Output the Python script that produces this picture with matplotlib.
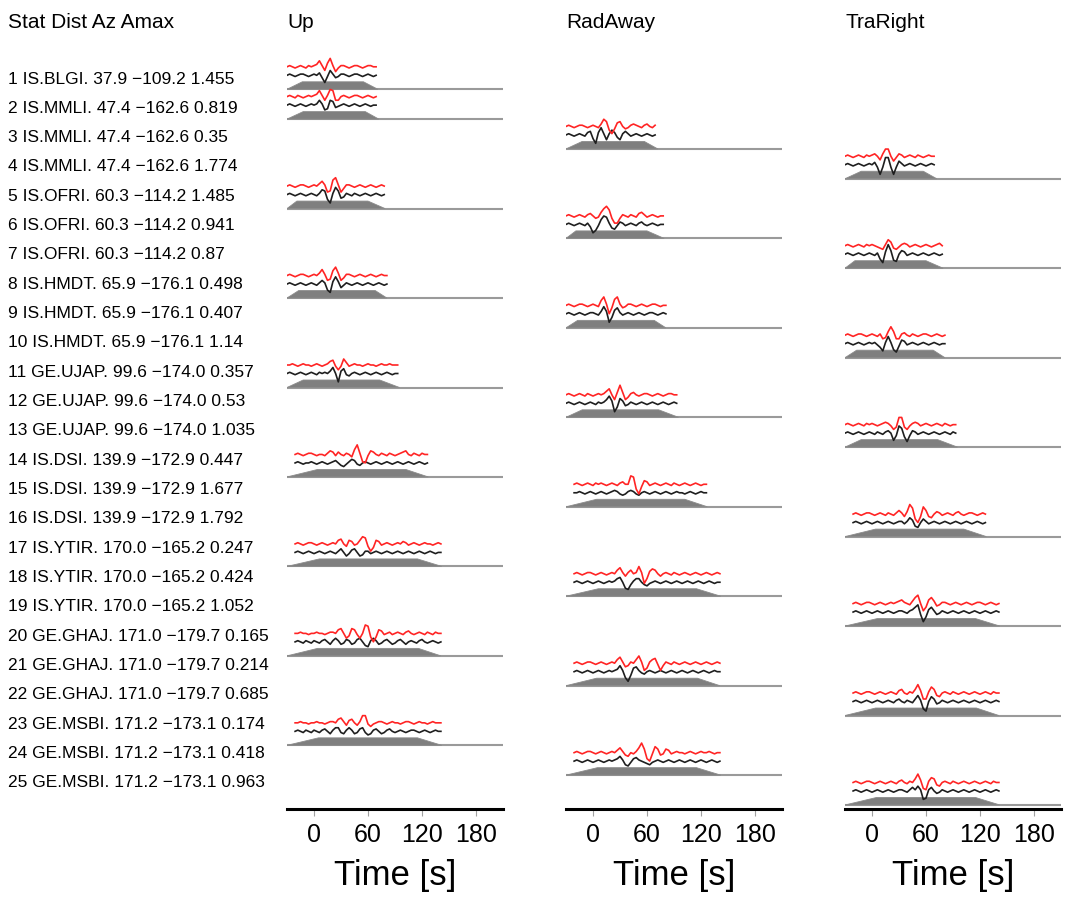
import numpy as np
import matplotlib
matplotlib.use('Agg')   # no display needed
import matplotlib.pyplot as plt

plt.rcParams['font.family'] = ['Liberation Sans', 'DejaVu Sans']


# -----------------------------------------------------------------------
# Stations
# -----------------------------------------------------------------------
sta_names = ['IS.BLGI.', 'IS.MMLI.', 'IS.OFRI.', 'IS.HMDT.', 'GE.UJAP.',
             'IS.DSI.', 'IS.YTIR.', 'GE.GHAJ.', 'GE.MSBI.']
sta_dist  = [37.9, 47.4, 60.3, 65.9, 99.6, 139.9, 170.0, 171.0, 171.2]
sta_azi   = [-109.2, -162.6, -114.2, -176.1, -174.0, -172.9, -165.2, -179.7, -173.1]

# fit window [s]: start, end of taper-in, start of taper-out, end
win_start = [-30, -30, -30, -30, -30, -30, -30, -30, -30]
win_top0  = [-13, -12, -19, -17, -12, 4, 6, 4, 5]
win_top1  = [55, 57, 60, 68, 73, 102, 115, 116, 115]
win_end   = [71, 72, 79, 81, 95, 127, 142, 141, 142]
trace_t0  = [-30, -30, -30, -30, -30, -21, -21, -21, -21]
DT = 3.0   # sample spacing of the traces below [s]

# -----------------------------------------------------------------------
# Rows (one trace each): station, component, max amplitude
# -----------------------------------------------------------------------
components = ['Up', 'RadAway', 'TraRight']
row_sta  = [0, 1, 1, 1, 2, 2, 2, 3, 3, 3, 4, 4, 4, 5, 5, 5, 6, 6, 6, 7, 7, 7, 8, 8, 8]
row_comp = [0, 0, 1, 2, 0, 1, 2, 0, 1, 2, 0, 1, 2, 0, 1, 2, 0, 1, 2, 0, 1, 2, 0, 1, 2]
row_amax = [1.455, 0.819, 0.35, 1.774, 1.485, 0.941, 0.87, 0.498, 0.407, 1.14,
            0.357, 0.53, 1.035, 0.447, 1.677, 1.792, 0.247, 0.424, 1.052,
            0.165, 0.214, 0.685, 0.174, 0.418, 0.963]

# observed (black), normalised amplitudes
obs = [
    [0,1,0,-1,0,1,1,0,-1,0, 1,0,2,-2,-6,-1,4,1,-2,-1, 1,1,0,-1,0,1,1,0,-1,0, 1,0,-1,0],
    [0,1,0,-1,0,1,0,-1,0,1, 0,1,4,1,-4,-3,4,3,-2,-1, 0,1,0,-1,0,1,0,-1,0,1, 0,-1,0,0],
    [0,1,0,-1,0,1,0,-1,2,3, -3,-7,2,6,1,-4,1,4,2,-2, -4,1,3,1,-1,0,1,0,-1,0, 1,0,-1,0],
    [0,1,0,-1,0,1,0,-1,0,1, 0,2,-2,-8,-2,6,6,-2,-8,-2, 3,1,-1,0,1,0,-1,0,1,0, -1,0,1,0],
    [0,1,0,-1,0,1,0,-1,0,1, 0,-1,1,4,3,-4,-7,1,6,3, -3,-2,1,0,-1,1,0,-1,0,1, 0,-1,0,1,0,-1,0],
    [0,1,0,-1,0,1,0,-1,1,-2, -7,-5,-1,4,7,6,1,-3,-4,-1, 2,1,-1,0,1,0,-1,1,2,0, -1,0,1,0,-1,0,0],
    [0,1,0,-1,0,1,0,-1,0,1, 0,-1,1,-4,-7,2,8,3,-5,-6, 0,3,2,-1,0,1,0,-1,0,1, 0,-1,0,1,0,-1,0],
    [0,1,0,-1,0,1,0,-1,0,1, 0,-1,1,3,1,-5,-7,2,6,2, -3,-1,1,0,-1,0,1,0,-1,0, 1,0,-1,0,1,0,-1,0],
    [0,1,0,-1,0,1,0,-1,0,1, 1,0,-1,2,6,2,-7,-3,3,5, 1,-1,0,1,0,-1,0,1,0,-1, 0,1,1,0,-1,0,1,0],
    [0,1,0,-1,0,1,0,-1,0,1, 0,1,-1,-3,-6,1,6,1,-5,-7, -2,3,2,-1,0,1,0,-1,0,1, 0,-1,0,1,0,-1,0,0],
    [0,1,0,-1,0,1,0,-1,0,1, 0,-1,1,0,1,0,2,5,0,-7, 2,4,-1,-2,0,1,0,-1,0,1, 0,-1,0,1,0,-1,0,1,0,-1,0,0],
    [0,1,0,-1,0,1,0,-1,0,1, 0,-1,1,0,1,3,6,2,-7,-3, 4,2,-2,-1,1,0,-1,0,1,0, -1,0,1,0,-1,0,1,0,-1,0,1,0],
    [0,1,0,-1,0,1,0,-1,0,1, 0,-1,1,0,-1,1,2,0,-6,-2, 6,4,-3,-7,-2,2,1,-1,0,1, 0,-1,0,1,0,-1,0,1,0,-1,1,0],
    [0,1,0,-1,0,0,1,0,-1,0, 1,0,-1,0,1,2,0,-2,-3,-1, 1,3,2,-1,-2,0,1,0,-1,0, 1,0,-1,0,1,0,-1,0,1,0,
     -1,0,1,0,-1,0,1,0,-1,0],
    [0,0,1,0,-1,0,1,0,-1,0, 1,0,-1,0,1,2,1,-1,-2,-1, 1,2,1,-1,-2,0,1,0,-1,0, 1,0,-1,0,1,0,-1,0,1,0,
     0,-1,0,1,0,-1,0,1,0,0],
    [0,1,0,-1,0,1,0,-1,0,1, 0,-1,0,1,0,-1,0,1,1,-1, 1,4,2,-3,-4,0,3,1,-1,0, 1,0,-1,0,1,0,-1,0,1,0,
     -1,0,1,0,-1,0,1,0,-1,0],
    [0,1,0,-1,0,1,0,-1,0,1, 0,-1,0,1,0,-1,1,3,0,-3, -1,2,3,0,-3,-2,1,1,-1,0, 1,0,-1,0,1,0,-1,0,1,0,
     -1,0,1,0,-1,0,1,0,-1,0, 1,0,-1,0,0],
    [0,1,0,-1,0,1,0,-1,0,1, 0,-1,0,1,0,1,3,4,0,-5, -6,-2,1,3,3,0,-2,-3,-1,0, 1,0,-1,0,1,0,-1,0,1,0,
     -1,0,1,0,-1,0,1,0,-1,0, 1,0,-1,0,0],
    [0,1,0,-1,0,1,0,-1,0,1, 0,-1,0,1,0,-1,0,1,1,0, -1,1,2,4,6,-2,-8,-4,2,4, 1,-2,-1,1,0,-1,0,1,0,-1,
     0,1,0,-1,0,1,0,-1,0,1, 0,-1,0,1,0],
    [0,1,0,-1,1,0,-1,1,0,-1, 1,2,0,-2,1,3,1,-2,-1,2, 1,-2,-1,2,3,0,-3,-4,1,3, 1,-2,-1,1,2,0,-2,-1,1,2,
     0,-2,0,1,0,-1,1,2,0,-1, 0,1,0,-1,0],
    [0,1,0,-1,0,1,0,-1,0,1, 0,-1,0,1,0,1,2,5,1,-5, -8,-3,3,4,1,-1,-2,0,1,0, -1,0,1,0,-1,0,1,0,-1,0,
     1,0,-1,0,1,0,-1,0,1,0, -1,0,1,0,0],
    [0,1,0,-1,0,1,0,-1,0,1, 0,-1,0,1,0,-1,1,2,0,-1, 1,0,-1,2,5,1,-6,-8,0,4, 2,-2,-1,1,0,-1,0,1,0,-1,
     0,1,0,-1,0,1,0,-1,0,1, 0,-1,0,1,0],
    [0,1,0,-1,1,0,-1,1,0,-1, 1,2,0,-2,1,3,3,-1,-2,1, 3,1,-2,-1,2,3,-1,-3,-2,1, 2,0,-2,-1,1,2,0,-1,0,1,
     0,-1,0,1,1,0,-1,0,1,0, -1,0,1,0,0],
    [0,1,0,-1,0,1,0,-1,0,1, 0,-1,0,1,0,1,2,4,1,-3, -4,-1,2,3,1,0,-1,-2,-3,-1, 0,1,0,-1,0,1,0,-1,0,1,
     0,-1,0,1,0,-1,0,1,0,-1, 0,1,0,-1,0],
    [0,1,0,-1,0,1,0,-1,0,1, 0,-1,0,1,0,-1,0,1,1,0, -1,1,3,1,4,1,-7,-6,1,3, 0,-2,-1,1,0,-1,0,1,0,-1,
     0,1,0,-1,0,1,0,-1,0,1, 0,-1,0,1,0],
]

# synthetics (red), same normalisation
syn = [
    [0,1,0,-1,0,1,0,-1,1,0, 1,2,5,1,-3,3,7,1,-4,-1, 1,1,0,-1,0,1,1,0,-1,0, 1,1,0,0],
    [0,1,0,-1,1,0,-1,0,1,0, 1,2,5,1,-3,1,6,5,-3,-3, 0,1,0,-1,0,1,1,0,-1,0, 1,0,-1,0],
    [0,1,0,-1,0,1,1,0,-1,0, 1,0,-1,2,6,4,-3,-6,-2,3, 4,0,-2,-1,1,2,1,0,-1,1, 2,0,-1,1],
    [0,1,0,-1,0,1,0,-1,1,0, 1,2,0,-3,2,6,6,0,-4,-1, 2,1,-1,0,1,0,-1,1,0,-1, 0,1,0,0],
    [0,1,0,-1,0,1,1,0,-1,0, 1,0,2,4,1,-5,-4,5,7,1, -5,-2,1,1,0,-1,0,1,0,-1, 0,1,0,-1,0,1,0],
    [0,1,0,-1,0,1,0,-1,1,2, 0,-2,-1,3,6,8,5,-2,-6,-6, -2,1,0,-1,1,0,-1,2,3,1, -1,0,1,0,-1,0,0],
    [0,1,0,-1,0,1,0,-1,1,0, 1,0,-1,-2,-3,1,5,3,-2,-3, -1,1,2,1,-1,0,1,0,-1,0, 1,0,-1,0,1,2,0],
    [0,1,0,-1,0,1,1,0,-1,0, 1,0,2,5,1,-4,-3,4,7,2, -4,-2,1,1,0,-1,0,1,0,-1, 0,1,0,-1,0,1,0,0],
    [0,1,0,-1,0,1,1,0,-1,0, 1,0,-1,4,7,1,-7,-2,5,7, 1,-2,-1,1,1,0,-1,0,1,0, -1,0,1,1,0,-1,0,0],
    [0,1,0,-1,0,1,1,0,-1,0, 1,0,-1,1,-3,-2,3,7,3,-3, -3,1,2,0,-1,1,0,-1,0,1, 1,0,-1,0,1,0,-1,0],
    [0,0,1,0,-1,0,1,0,0,-1, 0,1,0,-1,0,1,3,4,-1,-4, -1,5,2,-1,0,1,0,0,-1,0, 1,0,0,-1,0,1,0,0,1,0,0,0],
    [0,1,0,-1,0,1,0,-1,1,0, -1,0,1,0,1,3,5,0,-4,2, 8,2,-4,-2,1,2,0,-1,0,1, 1,0,-1,0,1,0,-1,0,1,1,0,0],
    [0,1,0,-1,0,1,0,-1,1,0, 1,0,-1,0,1,2,1,-1,-4,-2, 6,6,-2,-4,-1,1,2,1,-1,0, 1,0,-1,0,1,0,-1,1,0,-1,0,0],
    [0,1,0,-1,0,1,1,0,-1,0, 0,-1,1,3,2,-1,2,0,-1,1, 0,-2,4,8,1,-6,-7,-1,3,2, 0,-1,1,0,-1,1,0,-1,0,1,
     2,3,0,-1,1,0,-1,1,0,0],
    [0,1,0,-1,0,1,0,-1,1,0, 1,0,-1,0,1,0,-1,1,2,0, 0,7,6,-4,-8,-2,3,2,-1,0, 1,0,-1,0,1,0,-1,1,0,-1,
     0,1,0,-1,0,1,0,-1,0,0],
    [0,1,0,-1,0,1,1,0,-1,0, 1,0,-1,1,0,-1,1,3,1,-2, 2,8,5,-4,-7,-2,6,3,-2,-3, 0,2,1,-1,0,1,0,-1,1,2,
     0,-1,0,1,1,0,-1,0,1,0],
    [0,1,0,-1,0,1,1,0,-1,0, 1,0,-1,0,1,0,3,4,0,-2, 3,2,-1,0,3,6,5,-2,-6,-3, 3,2,-1,0,1,0,-1,0,1,0,
     2,1,-1,0,1,0,-1,0,1,0, 0,-1,0,1,0],
    [0,1,0,-1,0,1,1,0,-1,0, 1,0,-1,0,1,0,3,5,1,-2, 1,3,0,1,6,1,-8,-4,2,4, 3,0,-2,0,1,0,-1,1,0,-1,
     0,1,0,-1,0,1,0,-1,0,1, 0,-1,0,1,0],
    [0,1,0,-1,0,1,1,0,-1,0, 1,0,-1,0,1,0,1,2,3,1, 0,-1,2,5,7,0,-6,-3,3,5, 2,-2,-1,1,1,0,-1,0,1,0,
     -1,0,1,0,-1,0,1,1,0,-1, 0,1,0,-1,0],
    [0,0,1,0,0,-1,0,0,1,0, 0,-1,0,1,1,0,3,4,0,-4, -2,4,3,-1,-4,0,7,6,-3,-7, -3,3,2,-1,0,1,-1,0,1,0,
     -1,1,2,0,-1,0,1,0,-1,1, 0,-1,1,0,0],
    [0,1,0,-1,0,1,1,0,-1,0, 1,0,-1,0,1,0,3,5,1,-3, -2,1,0,3,6,1,-6,-4,1,3, 4,-1,-6,-2,1,0,-1,1,0,-1,
     0,1,0,-1,0,1,0,-1,0,1, 0,-1,0,1,0],
    [0,1,0,-1,0,1,1,0,-1,0, 1,0,-1,0,1,0,-1,2,3,0, -1,1,0,3,7,2,-5,-5,1,5, 3,-2,-3,0,1,0,-1,1,0,-1,
     0,1,0,-1,0,1,0,-1,0,1, 0,-1,1,0,0],
    [0,0,1,0,0,-1,0,0,1,0, 0,-1,0,1,1,0,3,4,1,-2, 2,3,0,-2,1,6,6,-1,-3,-1, 0,1,1,0,-1,0,1,0,0,-1,
     0,1,1,0,-1,0,1,0,0,-1, 0,1,0,0,0],
    [0,1,0,-1,0,1,1,0,-1,0, 1,0,-1,0,1,0,2,4,1,-2, -3,0,-1,1,4,8,3,-5,-7,-1, 5,3,-2,-1,3,2,-1,0,1,0,
     0,-1,0,1,0,-1,0,1,0,0, 1,0,-1,0,0],
    [0,1,0,-1,0,1,1,0,-1,0, 1,0,-1,0,1,0,-1,1,2,0, -1,1,0,3,7,2,-5,-6,1,4, 3,-2,-3,0,1,0,-1,1,0,-1,
     0,1,0,-1,0,1,0,-1,0,1, 0,-1,1,0,0],
]


# -----------------------------------------------------------------------
# Layout (pixels, top-left origin)
# -----------------------------------------------------------------------
FIG_W, FIG_H = 1070, 899
PANEL_X  = [287, 566, 845]
PANEL_W  = 216
AX_TOP   = 40
AX_BOT   = 809
BASE0    = 89.3      # baseline of first row
ROW_PX   = 29.82     # baseline spacing
LABEL_Y0 = 79
LABEL_DY = 29.33

TAPER_H = 7.5 / ROW_PX   # window height in row units
OBS_OFF = 14.0 / ROW_PX
SYN_OFF = 22.5 / ROW_PX
AMP     = 1.2 / ROW_PX   # one amplitude unit


def fx(px):
    return px / FIG_W


def fy(py):
    return 1 - py / FIG_H


fig = plt.figure(figsize=(FIG_W / 100, FIG_H / 100), dpi=100)

n_rows = len(row_sta)
y_top = (BASE0 - AX_TOP) / ROW_PX
y_bot = -(AX_BOT - BASE0) / ROW_PX

axes = []
for k, name in enumerate(components):
    ax = fig.add_axes([fx(PANEL_X[k]), fy(AX_BOT), PANEL_W / FIG_W, (AX_BOT - AX_TOP) / FIG_H])
    ax.set_xlim(-30, 210)
    ax.set_ylim(y_bot, y_top)
    for side in ('top', 'left', 'right'):
        ax.spines[side].set_visible(False)
    ax.spines['bottom'].set_linewidth(2.2)
    ax.set_yticks([])
    ax.set_xticks([0, 60, 120, 180])
    ax.tick_params(axis='x', direction='out', length=5, width=0.8,
                   color='#a0a0a0', labelsize=18, pad=5)
    fig.text(fx(PANEL_X[k]), fy(22), name, fontsize=15, va='center', ha='left')
    fig.text(fx(PANEL_X[k] + PANEL_W / 2), fy(885), 'Time [s]', fontsize=25,
             va='baseline', ha='center')
    axes.append(ax)

# -----------------------------------------------------------------------
# Traces
# -----------------------------------------------------------------------
for i in range(n_rows):
    s = row_sta[i]
    ax = axes[row_comp[i]]
    base = -i

    ax.plot([-30, 210], [base, base], color='#9a9a9a', lw=1.5, zorder=1,
            solid_capstyle='butt')
    ax.fill([win_start[s], win_top0[s], win_top1[s], win_end[s]],
            [base, base + TAPER_H, base + TAPER_H, base],
            facecolor='#7f7f7f', edgecolor='#8c8c8c', lw=0.6, zorder=2)

    t_obs = trace_t0[s] + DT * np.arange(len(obs[i]))
    t_syn = trace_t0[s] + DT * np.arange(len(syn[i]))
    ax.plot(t_obs, base + OBS_OFF + AMP * np.array(obs[i]), color='#1e1e1e',
            lw=1.2, zorder=3, solid_joinstyle='round')
    ax.plot(t_syn, base + SYN_OFF + AMP * np.array(syn[i]), color='#ff2424',
            lw=1.2, zorder=3, solid_joinstyle='round')

# -----------------------------------------------------------------------
# Station column
# -----------------------------------------------------------------------
fig.text(fx(8), fy(22), 'Stat Dist Az Amax', fontsize=15, va='center')
for i in range(n_rows):
    s = row_sta[i]
    label = f"{i + 1} {sta_names[s]} {sta_dist[s]:.1f} {sta_azi[s]:.1f} {row_amax[i]:g}"
    fig.text(fx(8), fy(LABEL_Y0 + i * LABEL_DY), label.replace('-', '\u2212'),
             fontsize=12.5, va='center')

fig.savefig('out.png', dpi=100)
